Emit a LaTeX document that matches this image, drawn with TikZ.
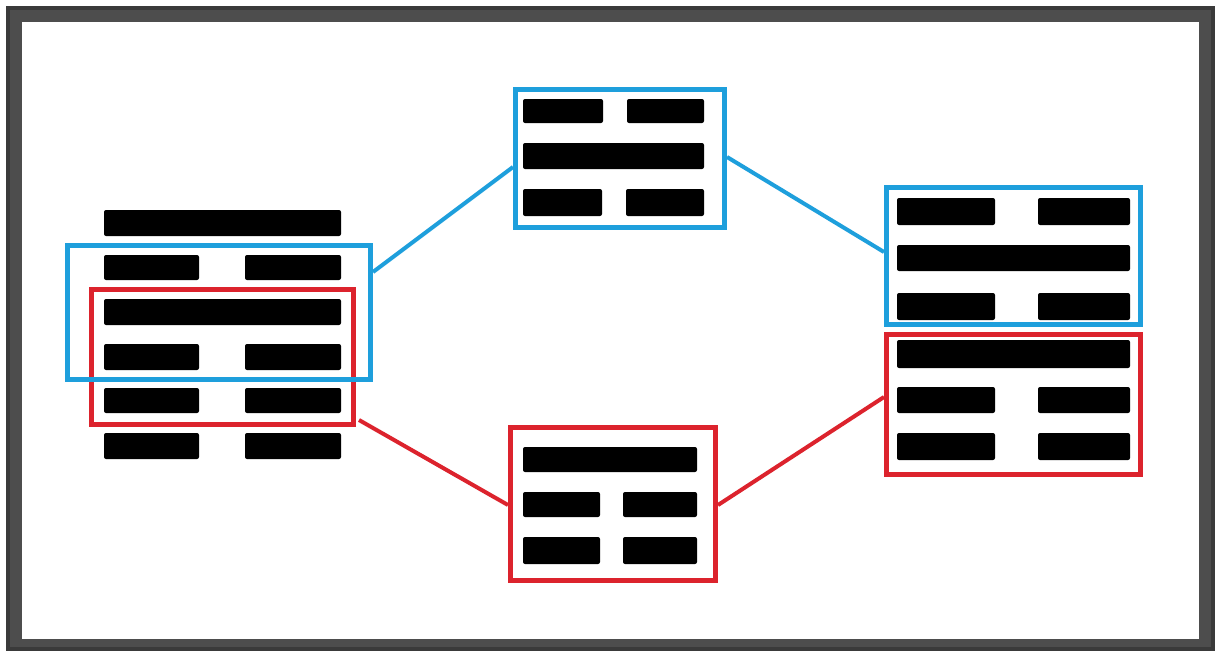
\documentclass[tikz,border=0pt]{standalone}
\usetikzlibrary{calc}
\definecolor{frameg}{HTML}{4D4D4D}
\definecolor{framed}{HTML}{3A3A3A}
\definecolor{hexblue}{HTML}{1E9FDC}
\definecolor{hexred}{HTML}{DC232D}
\tikzset{
  bluebox/.style={draw=hexblue, line width=5pt, rectangle, inner sep=0pt},
  redbox/.style={draw=hexred, line width=5pt, rectangle, inner sep=0pt},
  blueline/.style={draw=hexblue, line width=4pt},
  redline/.style={draw=hexred, line width=4pt},
  bar/.style={fill=black, rounded corners=2pt}
}
\begin{document}
\begin{tikzpicture}[x=1pt, y=-1pt]
\useasboundingbox (0,0) rectangle (1215,651);
\fill[white] (0,0) rectangle (1215,651);
% frame
\fill[framed] (6,6) rectangle (1215,651);
\fill[frameg] (10,10) rectangle (1211,647);
\fill[white] (22,22) rectangle (1199,639);

% left stack bars
\fill[bar] (104,210) rectangle (341,236);
\fill[bar] (104,255) rectangle (199,280);
\fill[bar] (245,255) rectangle (341,280);
\fill[bar] (104,299) rectangle (341,325);
\fill[bar] (104,344) rectangle (199,370);
\fill[bar] (245,344) rectangle (341,370);
\fill[bar] (104,388) rectangle (199,413);
\fill[bar] (245,388) rectangle (341,413);
\fill[bar] (104,433) rectangle (199,459);
\fill[bar] (245,433) rectangle (341,459);

% top middle bars
\fill[bar] (523,99) rectangle (603,123);
\fill[bar] (627,99) rectangle (704,123);
\fill[bar] (523,143) rectangle (704,169);
\fill[bar] (523,189) rectangle (602,216);
\fill[bar] (626,189) rectangle (704,216);

% bottom middle bars
\fill[bar] (523,447) rectangle (697,472);
\fill[bar] (523,492) rectangle (600,517);
\fill[bar] (623,492) rectangle (697,517);
\fill[bar] (523,537) rectangle (600,564);
\fill[bar] (623,537) rectangle (697,564);

% right stack bars
\fill[bar] (897,198) rectangle (995,225);
\fill[bar] (1038,198) rectangle (1130,225);
\fill[bar] (897,245) rectangle (1130,271);
\fill[bar] (897,293) rectangle (995,320);
\fill[bar] (1038,293) rectangle (1130,320);
\fill[bar] (897,340) rectangle (1130,368);
\fill[bar] (897,387) rectangle (995,413);
\fill[bar] (1038,387) rectangle (1130,413);
\fill[bar] (897,433) rectangle (995,460);
\fill[bar] (1038,433) rectangle (1130,460);

% boxes
\node[redbox, minimum width=262pt, minimum height=135pt] (lr) at (222.5,357) {};
\node[bluebox, minimum width=303pt, minimum height=134pt] (lb) at (219,312.5) {};
\node[bluebox, minimum width=209pt, minimum height=138pt] (tm) at (620,158.5) {};
\node[redbox, minimum width=205pt, minimum height=153pt] (bm) at (613,504) {};
\node[bluebox, minimum width=254pt, minimum height=137pt] (rb) at (1013.5,256) {};
\node[redbox, minimum width=254pt, minimum height=140pt] (rr) at (1013.5,404.5) {};

% connectors
\draw[blueline] ([yshift=40.5pt]lb.east) -- ([yshift=-8.5pt]tm.west);
\draw[blueline] ([yshift=1.5pt]tm.east) -- ([yshift=4pt]rb.west);
\draw[redline] ([xshift=3pt,yshift=7pt]lr.south east) -- ([yshift=-1pt]bm.west);
\draw[redline] ([yshift=-1pt]bm.east) -- ([yshift=7.5pt]rr.west);
\end{tikzpicture}
\end{document}
